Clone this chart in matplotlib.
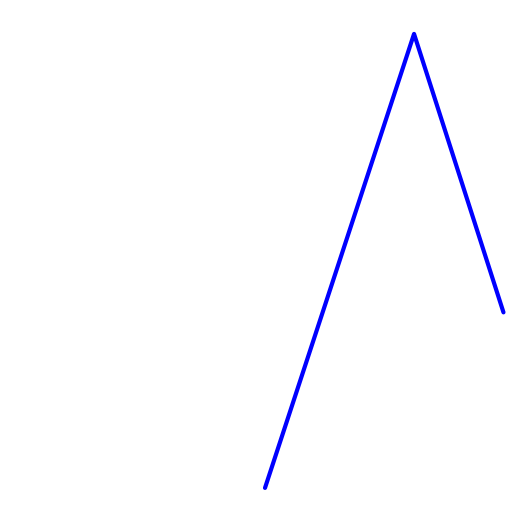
import matplotlib
matplotlib.use("Agg")
import matplotlib.pyplot as plt

# values
x = [0, 5, 8]
y = [0, 15, 5.8]

fig = plt.figure(figsize=(5.3, 5.3), dpi=100)
ax = fig.add_axes([0, 0, 1, 1])
ax.plot(x, y, color="blue", linewidth=3.0, solid_capstyle="round", solid_joinstyle="round")
ax.set_xlim(-8.89, 8.89)
ax.set_ylim(-1.39, 16.12)
ax.axis("off")

fig.savefig("out.png", dpi=100)
